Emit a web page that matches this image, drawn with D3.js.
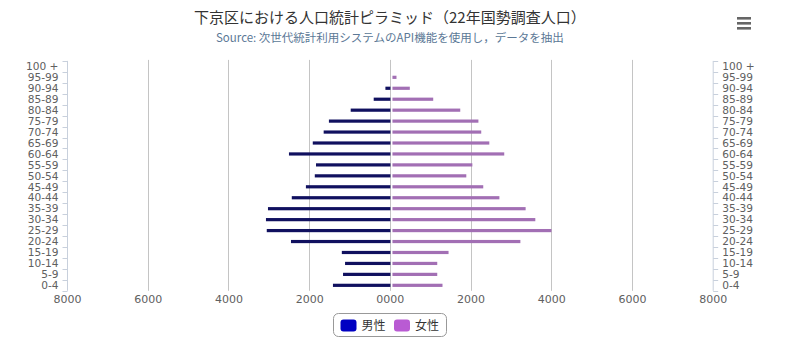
<!DOCTYPE html>
<html><head><meta charset="utf-8">
<script src="https://cdn.jsdelivr.net/npm/d3@7"></script>
<style>
html,body{margin:0;padding:0;background:#fff;}
svg{display:block;}
</style></head>
<body>
<script>
const categories = ["0-4","5-9","10-14","15-19","20-24","25-29","30-34","35-39","40-44","45-49","50-54","55-59","60-64","65-69","70-74","75-79","80-84","85-89","90-94","95-99","100 +"];
const maleValues   = [1410,1160,1110,1190,2450,3050,3070,3020,2430,2080,1860,1830,2500,1910,1640,1510,970,400,110,0,0];
const femaleValues = [1240,1110,1110,1390,3170,3940,3540,3300,2650,2250,1830,1980,2770,2400,2200,2130,1680,1010,430,100,0];
const xTickValues = [-8000,-6000,-4000,-2000,0,2000,4000,6000,8000];
const xTickLabels = ["8000","6000","4000","2000","0000","2000","4000","6000","8000"];
const seriesNames = ["男性","女性"];
const titleText = "下京区における人口統計ピラミッド（22年国勢調査人口）";
const subtitleText = "Source: 次世代統計利用システムのAPI機能を使用し，データを抽出";

const W = 808, H = 338;
const plot = {left: 67, right: 712.7, top: 60.9, bottom: 290.8};
const maleColor = "#10105f", femaleColor = "#a26fb4";
const maleLegend = "#0000c2", femaleLegend = "#b95bd3";
const jp = "'Noto Sans CJK JP','Noto Sans',sans-serif";
const lab = "'DejaVu Sans',sans-serif";

const svg = d3.select("body").append("svg").attr("width", W).attr("height", H);

const x = d3.scaleLinear().domain([-8000, 8000]).range([plot.left, plot.right]);
const y = d3.scaleBand().domain(categories.slice().reverse()).range([plot.top, plot.bottom]);

// gridlines
svg.append("g").selectAll("line").data(xTickValues.filter(v => Math.abs(v) < 8000)).join("line")
  .attr("x1", d => Math.round(x(d)) + 0.5).attr("x2", d => Math.round(x(d)) + 0.5)
  .attr("y1", plot.top - 1).attr("y2", plot.bottom)
  .attr("stroke", "#c4c4c4").attr("stroke-width", 1);

// bars
const bh = 3.2;
const rows = categories.map((c, i) => ({c, m: maleValues[i], f: femaleValues[i]}));
svg.append("g").selectAll("rect").data(rows.filter(d => d.m > 0)).join("rect")
  .attr("x", d => x(-d.m)).attr("width", d => x(0) + 0.6 - x(-d.m))
  .attr("y", d => y(d.c) + y.bandwidth()/2 - bh/2).attr("height", bh)
  .attr("fill", maleColor);
svg.append("g").selectAll("rect").data(rows.filter(d => d.f > 0)).join("rect")
  .attr("x", x(0) + 2.6).attr("width", d => x(d.f) - x(0))
  .attr("y", d => y(d.c) + y.bandwidth()/2 - bh/2).attr("height", bh)
  .attr("fill", femaleColor);

// left category axis
const left = svg.append("g").attr("transform", `translate(${plot.left + 0.5},0)`);
left.append("line").attr("y1", plot.top).attr("y2", plot.bottom).attr("stroke", "#c8d0dc");
const bounds = categories.map(c => y(c)).concat([plot.bottom]);
left.selectAll("line.t").data(bounds).join("line").attr("class","t")
  .attr("x1", -5).attr("x2", 0).attr("y1", d => Math.round(d) + 0.5).attr("y2", d => Math.round(d) + 0.5)
  .attr("stroke", "#c8d0dc");
left.selectAll("text").data(categories).join("text")
  .attr("x", -9).attr("y", d => y(d) + y.bandwidth()/2).attr("dy", "0.35em")
  .attr("text-anchor", "end").attr("font-family", lab).attr("font-size", 10.6).attr("fill", "#606060")
  .text(d => d);

// right category axis
const right = svg.append("g").attr("transform", `translate(${plot.right + 0.5},0)`);
right.append("line").attr("y1", plot.top).attr("y2", plot.bottom).attr("stroke", "#c8d0dc");
right.selectAll("line.t").data(bounds).join("line").attr("class","t")
  .attr("x1", 0).attr("x2", 5).attr("y1", d => Math.round(d) + 0.5).attr("y2", d => Math.round(d) + 0.5)
  .attr("stroke", "#c8d0dc");
right.selectAll("text").data(categories).join("text")
  .attr("x", 9).attr("y", d => y(d) + y.bandwidth()/2).attr("dy", "0.35em")
  .attr("text-anchor", "start").attr("font-family", lab).attr("font-size", 10.6).attr("fill", "#606060")
  .text(d => d);

// bottom value axis
const xAxis = d3.axisBottom(x).tickValues(xTickValues).tickSize(0).tickPadding(0)
  .tickFormat((d, i) => xTickLabels[i]);
const gx = svg.append("g").attr("transform", `translate(0,${plot.bottom + 2})`).call(xAxis);
gx.select(".domain").remove();
gx.selectAll("text").attr("font-family", lab).attr("font-size", 11).attr("fill", "#606060").attr("dy", "0.95em");

// title & subtitle
const cx = (plot.left + plot.right) / 2;
svg.append("text").attr("x", cx).attr("y", 18).attr("dy", "0.35em").attr("text-anchor", "middle")
  .attr("font-family", jp).attr("font-size", 15).attr("fill", "#333").text(titleText);
svg.append("text").attr("x", cx).attr("y", 38).attr("dy", "0.35em").attr("text-anchor", "middle")
  .attr("font-family", jp).attr("font-size", 11.5).attr("fill", "#5b7896").text(subtitleText);

// menu icon
const menu = svg.append("g").attr("transform", "translate(737,17)");
[0, 5, 10].forEach(o => menu.append("rect").attr("x", 0).attr("y", o).attr("width", 14).attr("height", 2.6).attr("fill", "#666"));

// legend
const lg = svg.append("g").attr("transform", "translate(333.5,313.5)");
lg.append("rect").attr("width", 113).attr("height", 23).attr("rx", 5).attr("fill", "#fff").attr("stroke", "#999");
const items = [{n: seriesNames[0], c: maleLegend, x: 7}, {n: seriesNames[1], c: femaleLegend, x: 60.5}];
items.forEach(it => {
  lg.append("rect").attr("x", it.x).attr("y", 6).attr("width", 16).attr("height", 12).attr("rx", 3).attr("fill", it.c);
  lg.append("text").attr("x", it.x + 21).attr("y", 12).attr("dy", "0.35em")
    .attr("font-family", jp).attr("font-size", 12).attr("fill", "#333").text(it.n);
});
</script>
</body></html>
